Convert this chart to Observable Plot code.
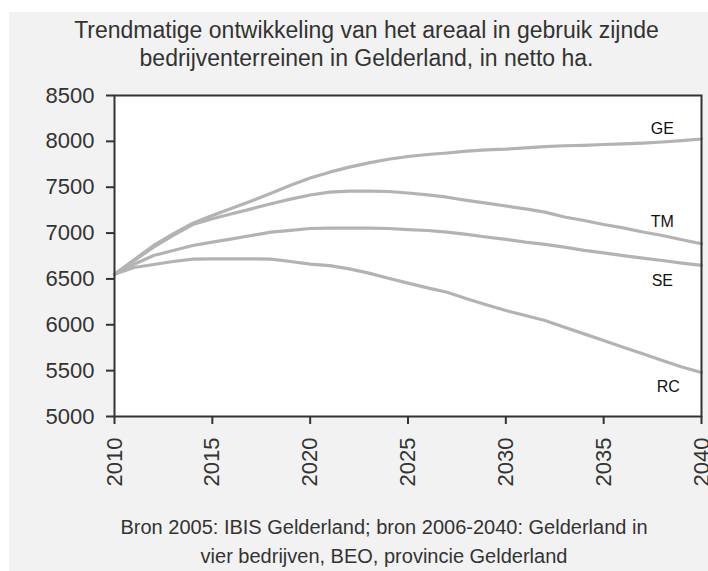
<!DOCTYPE html>
<html>
<head>
<meta charset="utf-8">
<script src="https://cdn.jsdelivr.net/npm/d3@7"></script>
<script src="https://cdn.jsdelivr.net/npm/@observablehq/plot@0.6"></script>
<style>
  html, body { margin: 0; padding: 0; background: #ffffff; }
  #panel { position: absolute; left: 9px; top: 12px; width: 699px; height: 559px; background: #f2f2f2; font-family: "Liberation Sans", Arial, sans-serif; color: #333; }
  #title { position: absolute; top: 4px; left: 16px; right: 0; text-align: center; font-size: 23px; line-height: 28.4px; white-space: nowrap; }
  #chart { position: absolute; top: 68px; left: 0; }
  #caption { position: absolute; top: 501px; left: 51px; right: 0; text-align: center; font-size: 20px; line-height: 28.7px; white-space: nowrap; }
</style>
</head>
<body>
<div id="panel">
  <div id="title">Trendmatige ontwikkeling van het areaal in gebruik zijnde<br>bedrijventerreinen in Gelderland, in netto ha.</div>
  <div id="chart"></div>
  <div id="caption">Bron 2005: IBIS Gelderland; bron 2006-2040: Gelderland in<br>vier bedrijven, BEO, provincie Gelderland</div>
</div>
<script>
const years = [2010, 2011, 2012, 2013, 2014, 2015, 2016, 2017, 2018, 2019, 2020,
               2021, 2022, 2023, 2024, 2025, 2026, 2027, 2028, 2029, 2030,
               2031, 2032, 2033, 2034, 2035, 2036, 2037, 2038, 2039, 2040];

const GE = [6550, 6710, 6865, 6992, 7108, 7192, 7270, 7350, 7435, 7522, 7600,
            7664, 7719, 7766, 7805, 7835, 7857, 7873, 7893, 7908, 7915,
            7929, 7942, 7952, 7957, 7966, 7973, 7981, 7993, 8009, 8026];
const TM = [6550, 6700, 6846, 6974, 7093, 7156, 7210, 7264, 7319, 7370, 7415,
            7446, 7457, 7457, 7453, 7437, 7417, 7391, 7357, 7326, 7295,
            7264, 7228, 7175, 7137, 7093, 7057, 7012, 6974, 6927, 6883];
const SE = [6550, 6660, 6755, 6810, 6865, 6901, 6937, 6974, 7010, 7030, 7050,
            7054, 7054, 7054, 7050, 7037, 7028, 7010, 6985, 6957, 6932,
            6901, 6876, 6846, 6812, 6785, 6755, 6726, 6701, 6672, 6647];
const RC = [6550, 6625, 6657, 6690, 6715, 6719, 6719, 6719, 6715, 6690, 6662,
            6645, 6610, 6563, 6508, 6454, 6403, 6355, 6285, 6218, 6156,
            6101, 6047, 5974, 5901, 5829, 5756, 5684, 5611, 5540, 5480];

const seriesNames = ["GE", "TM", "SE", "RC"];
const seriesValues = [GE, TM, SE, RC];

const labelNames = ["GE", "TM", "SE", "RC"];
const labelX = [2038.0, 2038.0, 2038.0, 2038.3];
const labelY = [8137, 7126, 6483, 5327];

const xTicks = [2010, 2015, 2020, 2025, 2030, 2035, 2040];
const yTicks = [5000, 5500, 6000, 6500, 7000, 7500, 8000, 8500];

const rows = seriesNames.flatMap((name, i) =>
  years.map((year, j) => ({series: name, year, value: seriesValues[i][j]})));
const labels = labelNames.map((name, i) => ({name, x: labelX[i], y: labelY[i]}));

const chart = Plot.plot({
  width: 699,
  height: 420,
  marginLeft: 105,
  marginRight: 7,
  marginTop: 15,
  marginBottom: 84,
  style: {background: "transparent", color: "#333", fontFamily: "'Liberation Sans', Arial, sans-serif"},
  x: {domain: [2010, 2040]},
  y: {domain: [5000, 8500]},
  marks: [
    Plot.frame({fill: "white", stroke: null}),
    Plot.line(rows, {x: "year", y: "value", z: "series", stroke: "#b3b3b3", strokeWidth: 3.2}),
    Plot.text(labels, {x: "x", y: "y", text: "name", fontSize: 16, fill: "#111"}),
    Plot.frame({stroke: "#333", strokeWidth: 2}),
    Plot.axisY(yTicks, {tickSize: 8, tickPadding: 12, fontSize: 22, label: null, strokeWidth: 2, tickFormat: d => String(d)}),
    Plot.axisX(xTicks, {tickSize: 8, tickPadding: 13, tickRotate: -90, fontSize: 22, label: null, strokeWidth: 2, tickFormat: d => String(d)})
  ]
});
document.getElementById("chart").appendChild(chart);
</script>
</body>
</html>
